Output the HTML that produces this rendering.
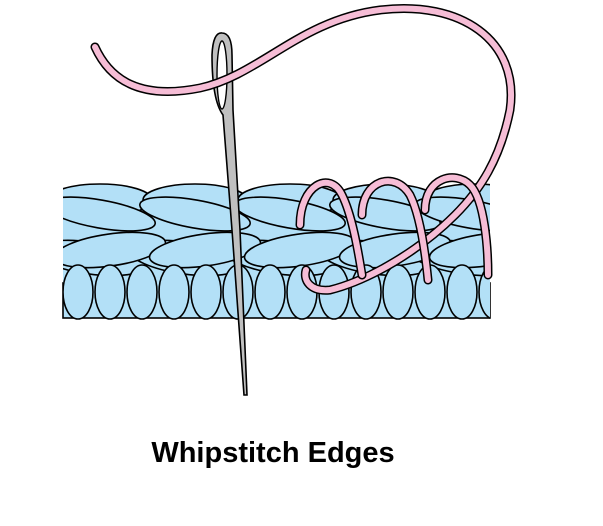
<!DOCTYPE html>
<html><head><style>body{margin:0;background:#fff}svg{display:block}</style></head><body>
<svg width="603" height="526" viewBox="0 0 603 526" xmlns="http://www.w3.org/2000/svg">
<defs><clipPath id="c"><rect x="63" y="170" width="427" height="150"/></clipPath></defs>
<g stroke="#000" stroke-width="1.6" fill="#b3e0f7">
<rect x="63" y="283" width="427" height="35" />
<g clip-path="url(#c)">
<rect x="60" y="195" width="440" height="90" stroke="none"/>
<g>
<ellipse cx="90" cy="258" rx="56" ry="16" transform="rotate(8 90 258)"/>
<ellipse cx="185" cy="258" rx="56" ry="16" transform="rotate(8 185 258)"/>
<ellipse cx="280" cy="258" rx="56" ry="16" transform="rotate(8 280 258)"/>
<ellipse cx="375" cy="258" rx="56" ry="16" transform="rotate(8 375 258)"/>
<ellipse cx="465" cy="258" rx="56" ry="16" transform="rotate(8 465 258)"/>
<ellipse cx="110" cy="250" rx="56" ry="16" transform="rotate(-8 110 250)"/>
<ellipse cx="205" cy="250" rx="56" ry="16" transform="rotate(-8 205 250)"/>
<ellipse cx="300" cy="250" rx="56" ry="16" transform="rotate(-8 300 250)"/>
<ellipse cx="395" cy="250" rx="56" ry="16" transform="rotate(-8 395 250)"/>
<ellipse cx="485" cy="250" rx="56" ry="16" transform="rotate(-8 485 250)"/>
</g>
<g>
<ellipse cx="78" cy="292" rx="15" ry="27"/><ellipse cx="110" cy="292" rx="15" ry="27"/>
<ellipse cx="142" cy="292" rx="15" ry="27"/><ellipse cx="174" cy="292" rx="15" ry="27"/>
<ellipse cx="206" cy="292" rx="15" ry="27"/><ellipse cx="238" cy="292" rx="15" ry="27"/>
<ellipse cx="270" cy="292" rx="15" ry="27"/><ellipse cx="302" cy="292" rx="15" ry="27"/>
<ellipse cx="334" cy="292" rx="15" ry="27"/><ellipse cx="366" cy="292" rx="15" ry="27"/>
<ellipse cx="398" cy="292" rx="15" ry="27"/><ellipse cx="430" cy="292" rx="15" ry="27"/>
<ellipse cx="462" cy="292" rx="15" ry="27"/><ellipse cx="494" cy="292" rx="15" ry="27"/>
</g>
<g>
<ellipse cx="100" cy="200" rx="52" ry="16"/><ellipse cx="195" cy="200" rx="52" ry="16"/>
<ellipse cx="290" cy="200" rx="52" ry="16"/><ellipse cx="385" cy="200" rx="52" ry="16"/>
<ellipse cx="475" cy="200" rx="52" ry="16"/>
</g>
<g>
<ellipse cx="100" cy="214" rx="56" ry="14" transform="rotate(10 100 214)"/>
<ellipse cx="195" cy="214" rx="56" ry="14" transform="rotate(10 195 214)"/>
<ellipse cx="290" cy="214" rx="56" ry="14" transform="rotate(10 290 214)"/>
<ellipse cx="385" cy="214" rx="56" ry="14" transform="rotate(10 385 214)"/>
<ellipse cx="470" cy="214" rx="56" ry="14" transform="rotate(10 470 214)"/>
</g>
</g>
</g>
<path d="M212,55 Q213,32 222,33 Q232,33 232,55 L233,110 L240,230 L247,395 L244,395 L232,230 L223,115 Q212,100 212,55 Z" fill="#c0c0c0" stroke="#000" stroke-width="1.6"/>
<ellipse cx="222" cy="75" rx="5" ry="34" fill="#fff" stroke="#000" stroke-width="1.4"/>
<g fill="none" stroke-linecap="round">
<path d="M95,47 C110,80 140,100 200,88 C260,75 300,20 380,10 C460,0 520,40 510,110 C500,160 480,190 455,215 C420,250 370,280 330,290 C310,292 303,280 306,270" stroke="#000" stroke-width="9"/>
<path d="M95,47 C110,80 140,100 200,88 C260,75 300,20 380,10 C460,0 520,40 510,110 C500,160 480,190 455,215 C420,250 370,280 330,290 C310,292 303,280 306,270" stroke="#f6bdd6" stroke-width="6"/>
<g stroke="#000" stroke-width="9">
<path d="M300,225 C300,185 330,170 342,195 C352,215 358,250 362,275"/>
<path d="M362,215 C362,180 395,170 410,195 C420,215 425,250 428,280"/>
<path d="M425,210 C425,178 455,170 470,185 C485,200 488,250 488,275"/>
</g>
<g stroke="#f6bdd6" stroke-width="6">
<path d="M300,225 C300,185 330,170 342,195 C352,215 358,250 362,275"/>
<path d="M362,215 C362,180 395,170 410,195 C420,215 425,250 428,280"/>
<path d="M425,210 C425,178 455,170 470,185 C485,200 488,250 488,275"/>
</g>
</g>
<text x="273" y="462" text-anchor="middle" font-family="Liberation Sans, sans-serif" font-weight="bold" font-size="29" fill="#000">Whipstitch Edges</text>
</svg>
</body></html>
